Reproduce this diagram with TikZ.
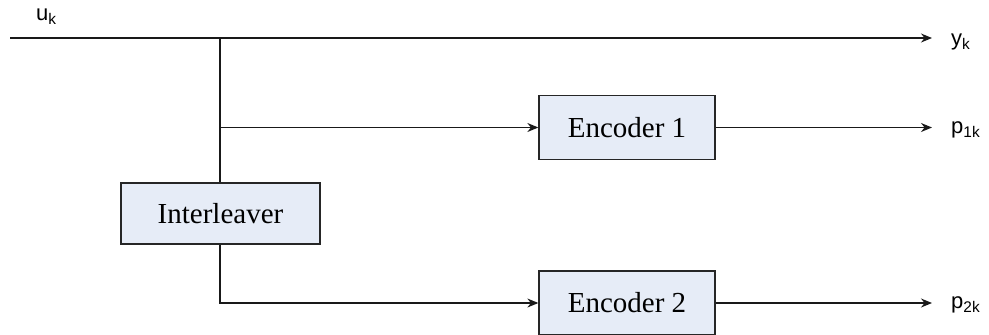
\documentclass[tikz,border=0pt]{standalone}
\usepackage{fontspec}
\setmainfont{Liberation Serif}
\newfontfamily\labelfont{Liberation Sans}
\usetikzlibrary{arrows.meta}
\definecolor{boxfill}{RGB}{230,236,247}
\begin{document}
\begin{tikzpicture}[x=1pt,y=-1pt,
  blockbox/.style={draw=black!85, line width=1.3pt, fill=boxfill,
    minimum width=176pt, minimum height=64pt, inner sep=0pt, font=\fontsize{29}{34}\selectfont},
  sig/.style={line width=1.3pt, draw=black!90},
  arr/.style={sig, -{Stealth[length=11pt,width=9pt]}},
  lbl/.style={font=\labelfont\fontsize{22}{26}\selectfont, inner sep=0pt, anchor=west}]
  \useasboundingbox (0,0) rectangle (989,335);

  % blocks
  \node[blockbox] (enc1) at (627,127.5) {Encoder 1};
  \node[blockbox] (enc2) at (627,303) {Encoder 2};
  \node[blockbox, minimum width=199pt, minimum height=61pt] (intl) at (220.5,213.5) {Interleaver};

  % signal points
  \coordinate (in) at (10,38);
  \coordinate (split) at (220,38);
  \coordinate (tap) at (220,127.5);
  \coordinate (ys) at (932,38);
  \coordinate (p1) at (932,127.5);
  \coordinate (p2) at (932,303);

  % connectors
  \draw[arr] (in) -- (ys);
  \draw[sig] (split) -- (split |- intl.north);
  \draw[arr] (tap) -- (enc1.west);
  \draw[arr] (intl.south -| split) |- (enc2.west);
  \draw[arr] (enc1.east) -- (p1);
  \draw[arr] (enc2.east) -- (p2);

  % labels
  \node[lbl] (lu) at (36,17) {u\textsubscript{k}};
  \node[lbl] (ly) at (951,42) {y\textsubscript{k}};
  \node[lbl] (lp1) at (951,130) {p\textsubscript{1k}};
  \node[lbl] (lp2) at (951,305) {p\textsubscript{2k}};
\end{tikzpicture}
\end{document}
